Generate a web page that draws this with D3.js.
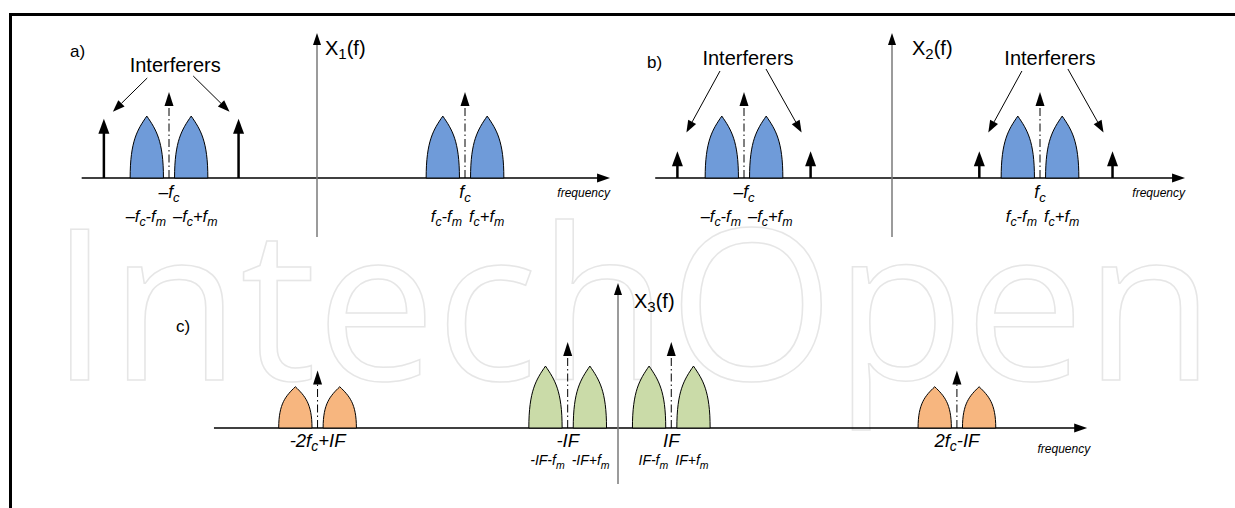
<!DOCTYPE html>
<html>
<head>
<meta charset="utf-8">
<script src="https://cdn.jsdelivr.net/npm/d3@7"></script>
<style>
  body { margin: 0; background: #fff; }
  text { font-family: "Liberation Sans", Arial, sans-serif; fill: #000; }
</style>
</head>
<body>
<div id="chart"></div>
<script>
// frequencies in units of fc, amplitudes relative to the carrier arrow
var carriersA = [-1, 1];
var interferersA = [-1.44, -0.53];
var carriersB = [-1, 1];
var interferersB = [-1.45, -0.55, 0.59, 1.49];
var imageC = [-2.03, 2.29];       // -2fc+IF , 2fc-IF
var ifC = [-0.34, 0.36];          // -IF , IF
var fm = 0.15, lobeWidth = 0.225;
var lobeAmp = 0.72, interfAmpA = 0.69, interfAmpB = 0.31;
var imageLobeAmp = 0.48, imageCarrierAmp = 0.67;
var pointerAmpA = 0.77, pointerAmpB = 0.53;

var carrierLabels = ["–f_c", "f_c"];
var sideLabels = [["–f_c-f_m", "–f_c+f_m"], ["f_c-f_m", "f_c+f_m"]];
var imageLabels = ["-2f_c+IF", "2f_c-IF"];
var ifLabels = ["-IF", "IF"];
var ifSideLabels = [["-IF-f_m", "-IF+f_m"], ["IF-f_m", "IF+f_m"]];

var width = 1235, height = 508;
var blue = "#6f9bd9", orange = "#f7b67f", green = "#cadba8";

var svg = d3.select("#chart")
  .append("svg")
  .attr("width", width)
  .attr("height", height);

// watermark
svg.append("text")
  .attr("x", 50)
  .attr("y", 380)
  .attr("textLength", 1165)
  .attr("lengthAdjust", "spacingAndGlyphs")
  .style("font-family", "'Open Sans', sans-serif")
  .style("font-size", "210px")
  .style("fill", "none")
  .style("stroke", "#e6e6e6")
  .style("stroke-width", 1.5)
  .text("IntechOpen");

// frame
svg.append("path")
  .attr("d", "M10.5,508 V14.5 H1235")
  .attr("fill", "none")
  .attr("stroke", "#000")
  .attr("stroke-width", 3);

function rich(t, str) {
  var shift = 4, down = false;
  str.split(/(_.)/).forEach(function(p) {
    if (!p) return;
    if (p[0] === "_") {
      t.append("tspan").attr("dy", shift).style("font-size", "0.75em").text(p[1]);
      down = true;
    } else {
      t.append("tspan").attr("dy", down ? -shift : 0).text(p);
      down = false;
    }
  });
  return t;
}

function head(g, x, y, dir, w, len, col) {
  // dir: "up" or "right", tip at (x,y)
  var pts = dir === "up"
    ? [[x, y], [x - w / 2, y + len], [x + w / 2, y + len]]
    : [[x, y], [x - len, y - w / 2], [x - len, y + w / 2]];
  g.append("path").attr("d", d3.line()(pts) + "Z").attr("fill", col || "#000");
}

function makePanel(opt) {
  var x = d3.scaleLinear().domain([0, 1]).range([opt.axisX, opt.axisX + 148]);
  var y = d3.scaleLinear().domain([0, 1]).range([opt.baseY, opt.baseY - 86]);
  var g = svg.append("g");

  // horizontal frequency axis
  g.append("line")
    .attr("x1", x(opt.extent[0])).attr("x2", x(opt.extent[1]) - 8)
    .attr("y1", y(0)).attr("y2", y(0))
    .attr("stroke", "#000").attr("stroke-width", 1.3);
  head(g, x(opt.extent[1]), y(0), "right", 9, 13);
  g.append("text")
    .attr("x", x(opt.extent[1]) + opt.freqDx).attr("y", y(0) + opt.freqDy)
    .attr("text-anchor", "end")
    .style("font-size", "12px").style("font-style", "italic")
    .text("frequency");

  // vertical axis
  g.append("line")
    .attr("x1", x(0)).attr("x2", x(0))
    .attr("y1", opt.axisBottom).attr("y2", opt.axisTop + 10)
    .attr("stroke", "#7a7a7a").attr("stroke-width", 1.5);
  head(g, x(0), opt.axisTop, "up", 8, 12);
  rich(g.append("text")
    .attr("x", x(0) + opt.titleDx).attr("y", opt.titleY)
    .style("font-size", "20px"), opt.title);

  g.append("text")
    .attr("x", opt.letter[0]).attr("y", opt.letter[1])
    .style("font-size", "17px")
    .text(opt.letterText);

  return { g: g, x: x, y: y };
}

function lobes(p, c, amp, fill) {
  [-1, 1].forEach(function(s) {
    var lc = c + s * fm;
    var x0 = p.x(lc - lobeWidth / 2), x1 = p.x(lc + lobeWidth / 2);
    var xc = (x0 + x1) / 2, w = x1 - x0;
    var b = p.y(0), t = p.y(amp), h = b - t;
    var d = "M" + x0 + "," + b +
      "C" + x0 + "," + (b - h * 0.6) + " " + (x0 + w * 0.22) + "," + (t + h * 0.22) + " " + xc + "," + t +
      "C" + (x1 - w * 0.22) + "," + (t + h * 0.22) + " " + x1 + "," + (b - h * 0.6) + " " + x1 + "," + b + "Z";
    p.g.append("path").attr("d", d)
      .attr("fill", fill).attr("stroke", "#000").attr("stroke-width", 1);
  });
}

function carrier(p, c, amp) {
  p.g.append("line")
    .attr("x1", p.x(c)).attr("x2", p.x(c))
    .attr("y1", p.y(0)).attr("y2", p.y(amp) + 10)
    .attr("stroke", "#000").attr("stroke-width", 1)
    .attr("stroke-dasharray", "8,3,1.5,3");
  head(p.g, p.x(c), p.y(amp), "up", 9, 14);
}

function interferer(p, c, amp) {
  p.g.append("line")
    .attr("x1", p.x(c)).attr("x2", p.x(c))
    .attr("y1", p.y(0)).attr("y2", p.y(amp) + 10)
    .attr("stroke", "#000").attr("stroke-width", 2.5);
  head(p.g, p.x(c), p.y(amp), "up", 11, 15);
}

function pointer(p, x1, y1, x2, y2) {
  var a = Math.atan2(y2 - y1, x2 - x1), len = 12, w = 4.5;
  var bx = x2 - len * Math.cos(a), by = y2 - len * Math.sin(a);
  p.g.append("line").attr("x1", x1).attr("y1", y1).attr("x2", bx).attr("y2", by)
    .attr("stroke", "#000").attr("stroke-width", 1);
  var pts = [[x2, y2],
    [bx + w * Math.sin(a), by - w * Math.cos(a)],
    [bx - w * Math.sin(a), by + w * Math.cos(a)]];
  p.g.append("path").attr("d", d3.line()(pts) + "Z").attr("fill", "#000");
}

function interfLabel(p, pair, amp, textY) {
  var x1 = p.x(pair[0]), x2 = p.x(pair[1]);
  var cx = (x1 + x2) / 2 + 4;
  p.g.append("text").attr("x", cx).attr("y", textY)
    .attr("text-anchor", "middle").style("font-size", "20px").text("Interferers");
  pointer(p, cx - 28, textY + 6, x1 + 9, p.y(amp));
  pointer(p, cx + 18, textY + 4, x2 - 9, p.y(amp));
}

function carrierText(p, c, main, sides, dy1, dy2, s1, s2) {
  var xc = p.x(c);
  rich(p.g.append("text").attr("x", xc).attr("y", p.y(0) + dy1)
    .attr("text-anchor", "middle").style("font-size", s1 + "px").style("font-style", "italic"), main);
  if (!sides) return;
  rich(p.g.append("text").attr("x", xc - 3).attr("y", p.y(0) + dy2)
    .attr("text-anchor", "end").style("font-size", s2 + "px").style("font-style", "italic"), sides[0]);
  rich(p.g.append("text").attr("x", xc + 4).attr("y", p.y(0) + dy2)
    .attr("text-anchor", "start").style("font-size", s2 + "px").style("font-style", "italic"), sides[1]);
}

// a) received spectrum
var pa = makePanel({ axisX: 317, baseY: 178, extent: [-1.59, 1.98], axisTop: 33, axisBottom: 237,
  title: "X_1(f)", titleDx: 8, titleY: 55, letter: [70, 57], letterText: "a)", freqDx: 0, freqDy: 19 });
carriersA.forEach(function(c, i) {
  lobes(pa, c, lobeAmp, blue);
  carrier(pa, c, 1);
  carrierText(pa, c, carrierLabels[i], sideLabels[i], 20, 44, 17.5, 16.5);
});
interferersA.forEach(function(c) { interferer(pa, c, interfAmpA); });
interfLabel(pa, interferersA, pointerAmpA, 72);

// b) after filtering
var pb = makePanel({ axisX: 892, baseY: 178, extent: [-1.6, 1.98], axisTop: 33, axisBottom: 237,
  title: "X_2(f)", titleDx: 20, titleY: 55, letter: [647, 68], letterText: "b)", freqDx: 0, freqDy: 19 });
carriersB.forEach(function(c, i) {
  lobes(pb, c, lobeAmp, blue);
  carrier(pb, c, 1);
  carrierText(pb, c, carrierLabels[i], sideLabels[i], 20, 44, 17.5, 16.5);
});
interferersB.forEach(function(c) { interferer(pb, c, interfAmpB); });
interfLabel(pb, interferersB.slice(0, 2), pointerAmpB, 65);
interfLabel(pb, interferersB.slice(2, 4), pointerAmpB, 65);

// c) after mixing
var pc = makePanel({ axisX: 618, baseY: 428, extent: [-2.73, 3.17], axisTop: 283, axisBottom: 484,
  title: "X_3(f)", titleDx: 16, titleY: 308, letter: [176, 332], letterText: "c)", freqDx: 3, freqDy: 25 });
imageC.forEach(function(c, i) {
  lobes(pc, c, imageLobeAmp, orange);
  carrier(pc, c, imageCarrierAmp);
  carrierText(pc, c, imageLabels[i], null, 19, 0, 18.5, 0);
});
ifC.forEach(function(c, i) {
  lobes(pc, c, lobeAmp, green);
  carrier(pc, c, 1);
  carrierText(pc, c, ifLabels[i], ifSideLabels[i], 19, 37, 18.5, 14);
});
</script>
</body>
</html>
